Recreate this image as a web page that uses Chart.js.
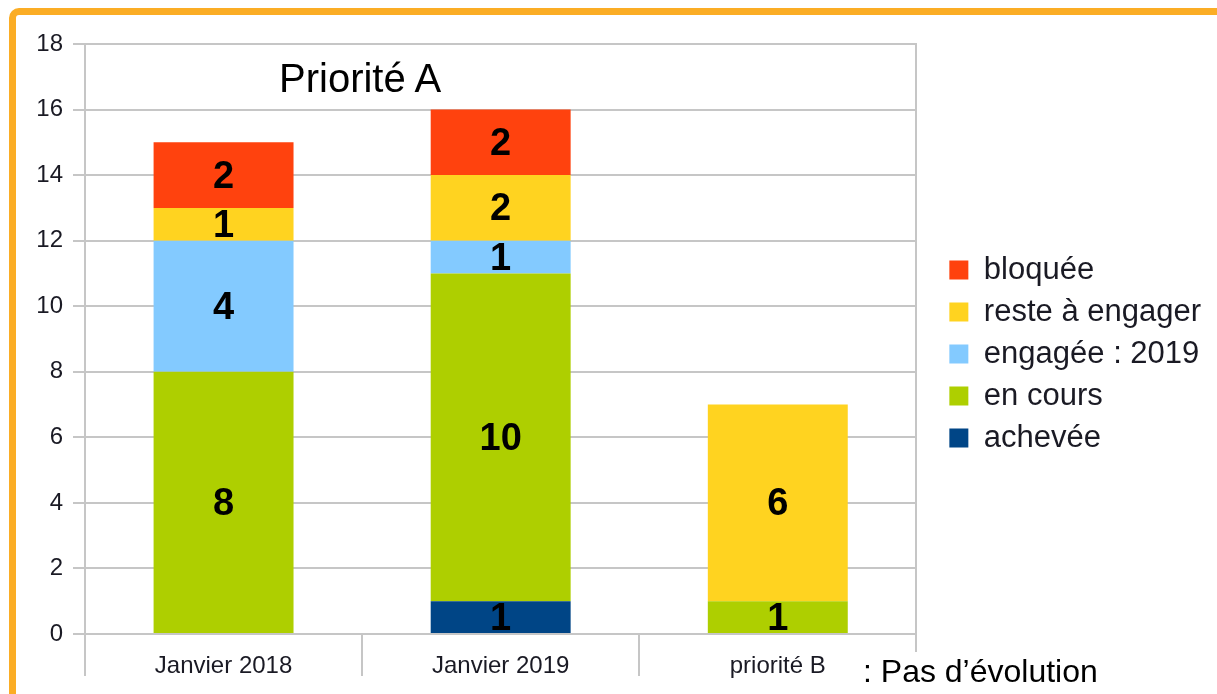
<!DOCTYPE html>
<html lang="fr">
<head>
<meta charset="utf-8">
<title>Priorité A</title>
<script src="https://cdn.jsdelivr.net/npm/chart.js@4"></script>
<style>
  html, body { margin: 0; padding: 0; background: #fff; overflow: hidden; }
  body { width: 1217px; height: 694px; position: relative; font-family: 'Liberation Sans', Arial, sans-serif; }
  .frame {
    position: absolute; left: 9px; top: 8px; width: 1400px; height: 900px;
    border: 7px solid #fbad25; border-radius: 10px; box-sizing: border-box;
  }
  .chart-box { position: absolute; left: 0; top: 0; width: 1217px; height: 694px; }
  .note { position: absolute; color: #000; white-space: nowrap; }
  .titre { left: 279px; top: 58px; font-size: 40px; line-height: 40px; }
  .evol { left: 863px; top: 652px; font-size: 32px; line-height: 34px; background: #fff; padding-top: 2px; }
</style>
</head>
<body>
<div class="frame"></div>
<div class="chart-box"><canvas id="bar-chart" width="1217" height="694"></canvas></div>
<div class="note titre">Priorité A</div>
<div class="note evol">: Pas d’évolution</div>
<script>
// categories
const periods = ['Janvier 2018', 'Janvier 2019', 'priorité B'];

// series values (bottom to top of each stack)
const achevee = [0, 1, 0];
const enCours = [8, 10, 1];
const engagee = [4, 1, 0];
const resteAEngager = [1, 2, 6];
const bloquee = [2, 2, 0];

// y axis ticks
const yMin = 0;
const yMax = 18;
const yStep = 2;

const gridColor = '#c6c6c6';
const textColor = '#1a1a24';
const fontFamily = '"Liberation Sans", Arial, sans-serif';

const barData = {
  labels: periods,
  datasets: [
    { label: 'achevée', data: achevee, backgroundColor: '#004586' },
    { label: 'en cours', data: enCours, backgroundColor: '#aecf00' },
    { label: 'engagée : 2019', data: engagee, backgroundColor: '#83caff' },
    { label: 'reste à engager', data: resteAEngager, backgroundColor: '#ffd320' },
    { label: 'bloquée', data: bloquee, backgroundColor: '#ff420e' },
  ],
};

// numbers written in the middle of each piece of a stack
const valueLabels = {
  id: 'valueLabels',
  afterDatasetsDraw(chart) {
    const ctx = chart.ctx;
    ctx.save();
    ctx.font = 'bold 38px ' + fontFamily;
    ctx.fillStyle = '#000';
    ctx.textAlign = 'center';
    ctx.textBaseline = 'middle';
    chart.data.datasets.forEach(function (ds, i) {
      chart.getDatasetMeta(i).data.forEach(function (bar, j) {
        const v = ds.data[j];
        if (!v) return;
        ctx.fillText(String(v), bar.x, (bar.y + bar.base) / 2 + 2);
      });
    });
    ctx.restore();
  },
};

const barConfig = {
  type: 'bar',
  data: barData,
  plugins: [valueLabels],
  options: {
    responsive: false,
    animation: false,
    datasets: {
      bar: { categoryPercentage: 1, barPercentage: 0.505, borderWidth: 0 },
    },
    layout: { padding: { top: 14, bottom: 0, left: 0, right: 6 } },
    plugins: {
      // empty title, only keeps 30px above the plot
      title: { display: true, text: '', padding: 0, font: { size: 30, lineHeight: 1 } },
      tooltip: { enabled: false },
      legend: {
        position: 'right',
        reverse: true,
        maxWidth: 320,
        labels: {
          boxWidth: 19,
          boxHeight: 19,
          padding: 11,
          color: textColor,
          font: { family: fontFamily, size: 31 },
        },
      },
    },
    scales: {
      x: {
        stacked: true,
        afterFit: function (scale) { scale.height = 60; },
        grid: { drawOnChartArea: false, tickLength: 42, color: gridColor, lineWidth: 2 },
        border: { display: true, color: gridColor, width: 2 },
        ticks: {
          padding: -24,
          color: textColor,
          font: { family: fontFamily, size: 24 },
        },
      },
      y: {
        stacked: true,
        min: yMin,
        max: yMax,
        afterFit: function (scale) { scale.width = 85; },
        grid: { color: gridColor, lineWidth: 2, tickLength: 12 },
        border: { display: true, color: gridColor, width: 2 },
        ticks: {
          stepSize: yStep,
          padding: 10,
          color: textColor,
          font: { family: fontFamily, size: 24 },
        },
      },
      yRight: {
        type: 'linear',
        position: 'right',
        display: true,
        afterFit: function (scale) { scale.width = 22; },
        grid: { display: false },
        border: { display: true, color: gridColor, width: 2 },
        ticks: { display: false },
      },
    },
  },
};

let ctx = document.getElementById('bar-chart');
const stackedBar = new Chart(ctx, barConfig);
</script>
</body>
</html>
